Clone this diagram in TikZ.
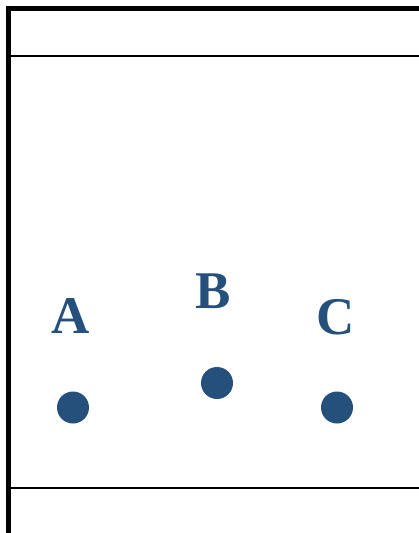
\documentclass[tikz,border=0pt]{standalone}
\usepackage{fontspec}
\setmainfont{Liberation Serif}
\definecolor{dotblue}{RGB}{38,80,124}
\begin{document}
\begin{tikzpicture}[
x=1pt, y=-1pt,
point/.style={circle,fill=dotblue,minimum size=32pt,inner sep=0pt},
letter/.style={anchor=base,inner sep=0pt,text=dotblue,font=\fontsize{53}{53}\selectfont\bfseries}
]
\useasboundingbox (0,0) rectangle (419,533);
\draw[line width=5pt] (8.5,533) -- (8.5,8.5) -- (419,8.5);
\draw[line width=2pt] (11,56) -- (419,56);
\draw[line width=2pt] (11,488) -- (419,488);
\node[letter] (labelA) at (70.5,333) {A};
\node[letter] (labelB) at (213,308) {B};
\node[letter] (labelC) at (336,334) {C};
\node[point] (dotA) at (73,407.5) {};
\node[point] (dotB) at (217,383) {};
\node[point] (dotC) at (337,407.5) {};
\end{tikzpicture}
\end{document}
